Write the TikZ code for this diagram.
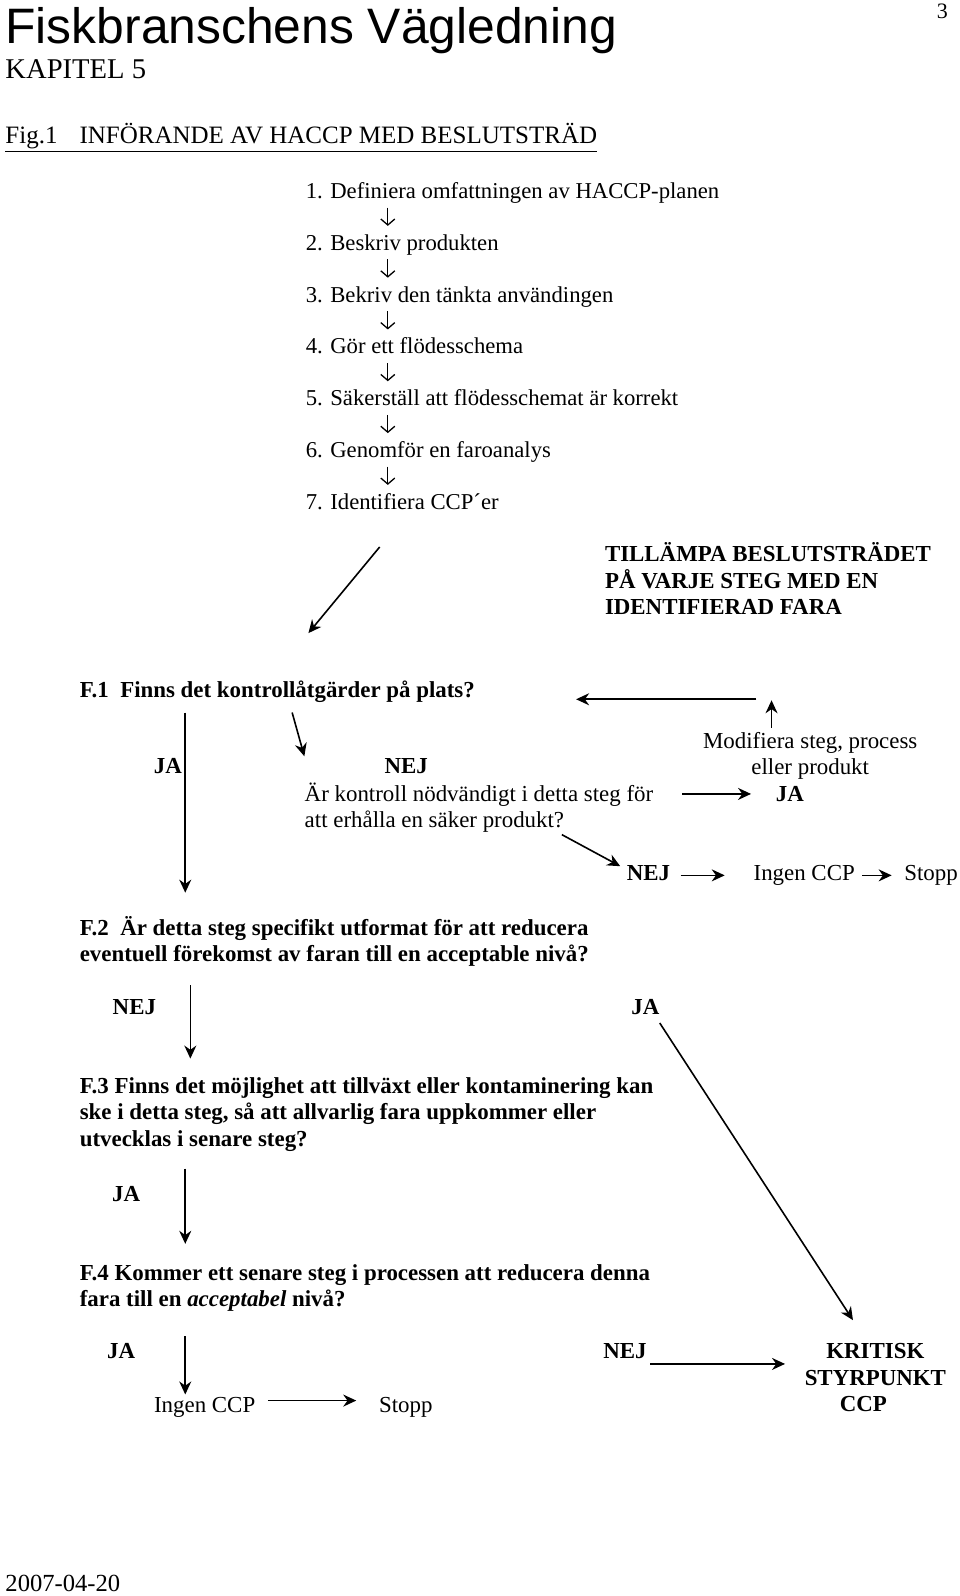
\documentclass[tikz,border=0pt]{standalone}
\usepackage{fontspec}
\setmainfont{Liberation Serif}
\newfontfamily\titlefont{Liberation Sans}
\usetikzlibrary{arrows.meta}

\tikzset{
  txt/.style={inner sep=0pt, anchor=base west, font=\fontsize{11.45}{13.24}\selectfont},
  ask/.style={txt, align=left, font=\fontsize{11.45}{13.24}\selectfont\bfseries},
  answer/.style={txt, anchor=base, font=\fontsize{11.45}{13.24}\selectfont\bfseries},
  stepbox/.style={txt, font=\fontsize{11.35}{13}\selectfont},
  arr/.style={-{Stealth[length=6.5pt,width=6pt]}, line width=0.8pt},
  steparr/.style={-{Straight Barb[length=3pt,width=7pt]}, line width=0.65pt},
}

\begin{document}
\begin{tikzpicture}[x=0.509pt, y=-0.509pt]

  \newcommand\PX{0.509pt}
  \path[fill=white, use as bounding box] (0,0) rectangle (943,1568);

  % page head
  \node[txt, font=\titlefont\fontsize{24.9}{28}\selectfont] (title) at (5,43)
    {Fiskbranschens Vägledning};
  \node[txt, font=\fontsize{11}{13}\selectfont] (page) at (920,18) {3};
  \node[txt, font=\fontsize{14.3}{16}\selectfont] (chapter) at (5,77) {KAPITEL 5};
  \node[txt, font=\fontsize{12.5}{14}\selectfont] (fig) at (5,141)
    {\underline{Fig.1\hspace{11pt}INFÖRANDE AV HACCP MED BESLUTSTRÄD}};

  % the seven steps
  \node[stepbox] (s1) at (300,195) {1. Definiera omfattningen av HACCP-planen};
  \node[stepbox] (s2) at (300,245.9) {2. Beskriv produkten};
  \node[stepbox] (s3) at (300,296.8) {3. Bekriv den tänkta användingen};
  \node[stepbox] (s4) at (300,347.7) {4. Gör ett flödesschema};
  \node[stepbox] (s5) at (300,398.6) {5. Säkerställ att flödesschemat är korrekt};
  \node[stepbox] (s6) at (300,449.5) {6. Genomför en faroanalys};
  \node[stepbox] (s7) at (300,500.4) {7. Identifiera CCP´er};

  \draw[steparr] ([xshift=81*\PX, yshift=-9*\PX]s1.base west) --
    ([xshift=81*\PX, yshift=24*\PX]s2.base west);
  \draw[steparr] ([xshift=81*\PX, yshift=-9*\PX]s2.base west) --
    ([xshift=81*\PX, yshift=24*\PX]s3.base west);
  \draw[steparr] ([xshift=81*\PX, yshift=-9*\PX]s3.base west) --
    ([xshift=81*\PX, yshift=24*\PX]s4.base west);
  \draw[steparr] ([xshift=81*\PX, yshift=-9*\PX]s4.base west) --
    ([xshift=81*\PX, yshift=24*\PX]s5.base west);
  \draw[steparr] ([xshift=81*\PX, yshift=-9*\PX]s5.base west) --
    ([xshift=81*\PX, yshift=24*\PX]s6.base west);
  \draw[steparr] ([xshift=81*\PX, yshift=-9*\PX]s6.base west) --
    ([xshift=81*\PX, yshift=24*\PX]s7.base west);

  \node[ask] (apply) at (594,604)
    {TILLÄMPA BESLUTSTRÄDET\\PÅ VARJE STEG MED EN\\IDENTIFIERAD FARA};

  % question 1
  \node[ask] (f1) at (78,685) {F.1\ \ Finns det kontrollåtgärder på plats?};
  \node[answer] (ja1) at (165,760) {JA};
  \node[answer] (nej1) at (399,760) {NEJ};
  \node[txt, align=left] (q1) at (299,813)
    {Är kontroll nödvändigt i detta steg för\\att erhålla en säker produkt?};
  \node[txt, anchor=base, align=center] (mod) at (796,761)
    {Modifiera steg, process\\eller produkt};
  \node[answer] (ja2) at (776,787) {JA};
  \node[answer] (nej2) at (637,865) {NEJ};
  \node[txt] (ingen1) at (740,865) {Ingen CCP};
  \node[txt] (stopp1) at (888,865) {Stopp};

  \draw[arr] ([xshift=73*\PX, yshift=-37*\PX]s7.base west) --
    ([xshift=225*\PX, yshift=63*\PX]f1.base west);
  \coordinate (loop) at (743,687);
  \coordinate (loopend) at (566,687);
  \draw[arr] (loop) -- (loopend);
  \draw[arr] ([xshift=-38*\PX, yshift=46*\PX]mod.base) -- ++(0,-27);
  \draw[arr] ([xshift=209*\PX, yshift=-15*\PX]f1.base west) --
    ([yshift=70*\PX]q1.base west);
  \draw[arr] ([xshift=28*\PX, yshift=33*\PX]q1.base east) --
    ([xshift=-24*\PX, yshift=7*\PX]ja2.base west);
  \draw[arr] ([xshift=253*\PX, yshift=-7*\PX]q1.base west) --
    ([xshift=-6*\PX, yshift=14*\PX]nej2.base west);
  \draw[arr] ([xshift=10*\PX, yshift=5*\PX]nej2.base east) --
    ([xshift=-28*\PX, yshift=5*\PX]ingen1.base west);
  \draw[arr] ([xshift=7*\PX, yshift=5*\PX]ingen1.base east) --
    ([xshift=-12*\PX, yshift=5*\PX]stopp1.base west);

  % question 2
  \node[ask] (f2) at (78,945)
    {F.2\ \ Är detta steg specifikt utformat för att reducera\\eventuell förekomst av faran till en acceptable nivå?};
  \node[answer] (nej3) at (132,997) {NEJ};
  \node[answer] (ja3) at (634,997) {JA};

  \draw[arr] ([xshift=104*\PX, yshift=-15*\PX]f1.base west) --
    ([xshift=104*\PX, yshift=68*\PX]f2.base west);

  % question 3
  \node[ask] (f3) at (78,1126)
    {F.3 Finns det möjlighet att tillväxt eller kontaminering kan\\ske i detta steg, så att allvarlig fara uppkommer eller\\utvecklas i senare steg?};
  \node[answer] (ja4) at (124,1180) {JA};

  % question 4
  \node[ask] (f4) at (78,1284)
    {F.4 Kommer ett senare steg i processen att reducera denna\\fara till en \textit{acceptabel} nivå?};
  \node[answer] (ja5) at (119,1335) {JA};
  \node[txt] (ingen2) at (151,1388) {Ingen CCP};
  \node[txt] (stopp2) at (372,1388) {Stopp};
  \node[answer] (nej4) at (614,1335) {NEJ};
  \node[answer, align=center] (ccp) at (860,1387)
    {KRITISK\\STYRPUNKT\\CCP\hspace*{12pt}};

  \draw[arr] ([xshift=109*\PX, yshift=-23*\PX]f2.base west) --
    ([xshift=109*\PX, yshift=86*\PX]f3.base west);
  \draw[arr] ([yshift=-8*\PX]ja3.base east) --
    ([xshift=-22*\PX, yshift=90*\PX]ccp.base);
  \draw[arr] ([xshift=104*\PX, yshift=-22*\PX]f3.base west) --
    ([xshift=104*\PX, yshift=62*\PX]f4.base west);
  \draw[arr] ([xshift=104*\PX, yshift=-29*\PX]f4.base west) --
    ([xshift=31*\PX, yshift=18*\PX]ingen2.base west);
  \draw[arr] ([xshift=12*\PX, yshift=12*\PX]ingen2.base east) --
    ([xshift=-22*\PX, yshift=12*\PX]stopp2.base west);
  \draw[arr] ([xshift=3*\PX, yshift=-5*\PX]nej4.base east) --
    ([xshift=-19*\PX, yshift=47*\PX]ccp.base west);

  \node[txt, font=\fontsize{12.3}{14}\selectfont] (date) at (5,1564) {2007-04-20};

\end{tikzpicture}
\end{document}
